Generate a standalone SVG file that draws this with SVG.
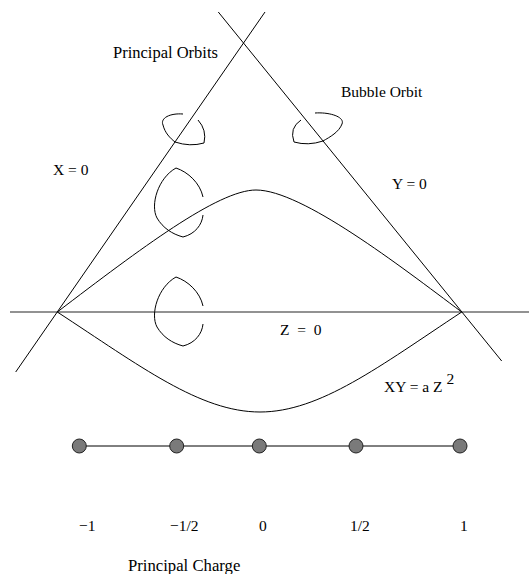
<svg xmlns="http://www.w3.org/2000/svg" width="529" height="574" viewBox="0 0 529 574">
<style>
.ln{fill:none;stroke:#000;stroke-width:1}
.ax{fill:none;stroke:#6e6e6e;stroke-width:1.6}
.t{font-family:"Liberation Serif","Times New Roman",serif;font-size:15.5px;fill:#000}
.big{font-size:16.5px}
.dot{fill:#7a7a7a;stroke:#222;stroke-width:1}
</style>
<rect width="529" height="574" fill="#fff"/>
<g id="connectors">
<line class="ax" x1="10" y1="312" x2="529" y2="312"/>
<line id="x0" class="ln" x1="15.7" y1="372" x2="265" y2="12"/>
<line id="y0" class="ln" x1="218.3" y1="12" x2="501.7" y2="361"/>
<path id="upper" class="ln" d="M57.3,312 C140,249 218,190 256,190 C302,190 400,266 461.7,312"/>
<path id="lower" class="ln" d="M57.3,312 C140,366 200,412 260,412 C320,412 380,366 461.7,312"/>
<line class="ln" x1="79" y1="446" x2="460" y2="446"/>
</g>
<g id="bubble1"><path class="ln" d="M183,114 C170,113 160,118 163,125 C165,133 170,138 175,142 Q190,147 204,143 Q207,130 198,120"/></g>
<g id="bubble2"><path class="ln" d="M203,197 C200,183 188,172 176,168 C158,178 150,205 157,218 C163,228 172,234 183,237 C195,234 202,225 203,215"/></g>
<g id="bubble3"><path class="ln" d="M203,306 C200,292 188,281 176,277 C158,287 150,314 157,327 C163,337 172,343 183,346 C195,343 202,334 203,324"/></g>
<g id="bubble4"><path class="ln" d="M315,113 C330,112 345,117 342,124 C339,132 330,137 323,141 Q308,146 294,142 Q289,128 301,120"/></g>
<g id="labels">
<text class="t big" x="113" y="58">Principal Orbits</text>
<text class="t" x="341" y="97">Bubble Orbit</text>
<text class="t" x="53" y="175">X = 0</text>
<text class="t" x="392" y="189">Y = 0</text>
<text class="t" x="280" y="335" xml:space="preserve">Z  =  0</text>
<text class="t" x="384" y="392">XY = a Z <tspan dy="-8">2</tspan></text>
</g>
<g id="dots">
<circle id="d1" class="dot" cx="79.3" cy="446" r="7"/>
<circle id="d2" class="dot" cx="176.7" cy="446" r="7"/>
<circle id="d3" class="dot" cx="259.3" cy="446" r="7"/>
<circle id="d4" class="dot" cx="356" cy="446" r="7"/>
<circle id="d5" class="dot" cx="460" cy="446" r="7"/>
</g>
<g id="charges">
<text class="t" x="79" y="531">−1</text>
<text class="t" x="170" y="531">−1/2</text>
<text class="t" x="259" y="531">0</text>
<text class="t" x="350" y="531">1/2</text>
<text class="t" x="460" y="531">1</text>
<text class="t" x="128" y="571" style="font-size:16.7px">Principal Charge</text>
</g>
</svg>
